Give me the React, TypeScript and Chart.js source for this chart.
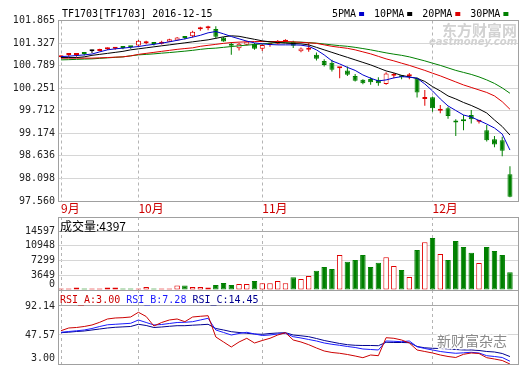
import React, { useEffect, useRef } from 'react';
import { Chart, registerables } from 'chart.js';

Chart.register(...registerables);

// ---------------- data ----------------
const TITLE = 'TF1703[TF1703] 2016-12-15';
const MONTH_LABELS = ['9月', '10月', '11月', '12月'];
const MONTH_START = [0, 10, 26, 48];

const OPEN = [
  100.99, 101.04, 101.04, 101.075, 101.13, 101.14, 101.18, 101.19, 101.215, 101.23,
  101.267, 101.32, 101.315, 101.308, 101.356, 101.39, 101.455, 101.487, 101.655, 101.68,
  101.66, 101.46, 101.27, 101.205, 101.284, 101.31, 101.19, 101.28, 101.31, 101.36,
  101.356, 101.13, 101.165, 101.05, 100.9, 100.86, 100.725, 100.67, 100.54, 100.45,
  100.47, 100.45, 100.35, 100.545, 100.515, 100.535, 100.49, 99.99, 100.035, 99.71,
  99.77, 99.44, 99.47, 99.61, 99.45, 99.25, 99.03, 99.01, 98.2,
];
const HIGH = [
  101.03, 101.09, 101.09, 101.11, 101.17, 101.19, 101.22, 101.23, 101.24, 101.25,
  101.4, 101.38, 101.34, 101.38, 101.43, 101.47, 101.475, 101.62, 101.714, 101.74,
  101.73, 101.47, 101.35, 101.33, 101.38, 101.33, 101.3, 101.31, 101.4, 101.42,
  101.38, 101.22, 101.33, 101.1, 100.94, 100.93, 100.735, 100.765, 100.59, 100.465,
  100.51, 100.51, 100.63, 100.61, 100.565, 100.61, 100.51, 100.21, 100.05, 99.85,
  99.81, 99.51, 99.61, 99.73, 99.49, 99.37, 99.11, 99.09, 98.39,
];
const LOW = [
  100.98, 101.0, 101.0, 101.03, 101.09, 101.13, 101.16, 101.17, 101.18, 101.19,
  101.24, 101.3, 101.27, 101.29, 101.35, 101.38, 101.41, 101.46, 101.62, 101.63,
  101.43, 101.36, 101.05, 101.15, 101.27, 101.17, 101.14, 101.24, 101.29, 101.34,
  101.21, 101.11, 101.117, 100.91, 100.77, 100.65, 100.49, 100.54, 100.41, 100.345,
  100.33, 100.31, 100.33, 100.49, 100.465, 100.465, 100.03, 99.83, 99.69, 99.65,
  99.52, 99.11, 99.25, 99.41, 99.41, 98.98, 98.84, 98.63, 97.65,
];
const CLOSE = [
  101.01, 101.05, 101.05, 101.065, 101.13, 101.18, 101.19, 101.2, 101.21, 101.225,
  101.38, 101.33, 101.305, 101.356, 101.416, 101.46, 101.445, 101.595, 101.68, 101.69,
  101.48, 101.365, 101.26, 101.31, 101.363, 101.19, 101.28, 101.285, 101.38, 101.4,
  101.26, 101.2, 101.17, 100.95, 100.806, 100.69, 100.73, 100.57, 100.43, 100.37,
  100.39, 100.37, 100.6, 100.55, 100.51, 100.54, 100.15, 100.0, 99.77, 99.72,
  99.59, 99.43, 99.465, 99.51, 99.455, 99.01, 98.91, 98.76, 97.66,
];

const MA_NAMES = ['5PMA', '10PMA', '20PMA', '30PMA'];
const MA5 = [
  101.005, 101.014, 101.029, 101.045, 101.065, 101.117, 101.165, 101.189, 101.206, 101.225,
  101.244, 101.273, 101.296, 101.325, 101.356, 101.392, 101.428, 101.469, 101.512, 101.571,
  101.602, 101.547, 101.483, 101.428, 101.373, 101.332, 101.308, 101.292, 101.284, 101.284,
  101.284, 101.277, 101.249, 101.165, 101.045, 100.902, 100.83, 100.747, 100.675, 100.567,
  100.489, 100.424, 100.448, 100.496, 100.527, 100.513, 100.489, 100.352, 100.185, 99.994,
  99.827, 99.719, 99.611, 99.564, 99.48, 99.396, 99.301, 99.157, 98.775,
];
const MA10 = [
  100.981, 100.981, 100.981, 100.998, 101.034, 101.057, 101.081, 101.105, 101.129, 101.165,
  101.189, 101.213, 101.237, 101.261, 101.284, 101.308, 101.332, 101.356, 101.38, 101.404,
  101.44, 101.476, 101.5, 101.488, 101.452, 101.416, 101.38, 101.356, 101.339, 101.325,
  101.316, 101.308, 101.284, 101.225, 101.165, 101.105, 101.045, 100.986, 100.926, 100.866,
  100.806, 100.735, 100.663, 100.615, 100.556, 100.52, 100.484, 100.412, 100.288, 100.185,
  100.066, 99.994, 99.91, 99.839, 99.755, 99.659, 99.492, 99.337, 99.133,
];
const MA20 = [
  100.967, 100.967, 100.967, 100.967, 100.967, 100.974, 100.981, 100.991, 100.998, 101.022,
  101.057, 101.081, 101.105, 101.129, 101.153, 101.177, 101.196, 101.213, 101.249, 101.273,
  101.296, 101.32, 101.339, 101.349, 101.356, 101.363, 101.363, 101.363, 101.363, 101.363,
  101.356, 101.344, 101.332, 101.32, 101.284, 101.249, 101.225, 101.201, 101.165, 101.117,
  101.069, 101.01, 100.95, 100.902, 100.847, 100.795, 100.735, 100.675, 100.608, 100.544,
  100.472, 100.4, 100.328, 100.269, 100.209, 100.149, 100.066, 99.929, 99.748,
];
const MA30 = [
  100.926, 100.931, 100.938, 100.945, 100.95, 100.962, 100.974, 100.986, 100.998, 101.022,
  101.045, 101.057, 101.069, 101.086, 101.1, 101.117, 101.134, 101.153, 101.177, 101.196,
  101.206, 101.225, 101.244, 101.261, 101.277, 101.292, 101.308, 101.325, 101.339, 101.344,
  101.349, 101.349, 101.337, 101.325, 101.304, 101.284, 101.265, 101.249, 101.225, 101.196,
  101.165, 101.129, 101.093, 101.062, 101.034, 100.998, 100.95, 100.902, 100.847, 100.795,
  100.735, 100.675, 100.627, 100.579, 100.52, 100.448, 100.364, 100.257, 100.13,
];

const VOLUME_TITLE = '成交量';
const VOLUME = [
  370, 370, 620, 370, 370, 370, 620, 620, 370, 370,
  370, 740, 370, 370, 370, 1110, 1110, 740, 740, 620,
  1240, 1730, 1240, 1480, 1480, 2230, 1660, 1660, 2230, 1660,
  3140, 2720, 3460, 4770, 5690, 5200, 8660, 7000, 7420, 8660,
  5690, 6750, 8090, 5940, 4950, 3220, 9900, 11800, 12860, 8910,
  7420, 12120, 10640, 9230, 6680, 10640, 9650, 8660, 4397,
];

const RSI_NAMES = ['RSI_A', 'RSI_B', 'RSI_C'];
const RSI_A = [
  54.18, 58.33, 59.1, 60.63, 62.94, 67.09, 72.16, 73.7, 74.16, 75.23,
  82.46, 76.0, 61.4, 66.78, 70.62, 72.16, 68.01, 75.23, 76.31, 77.23,
  44.5, 36.81, 29.13, 36.81, 42.5, 35.27, 39.12, 42.5, 47.57, 51.1,
  39.89, 36.81, 32.66, 27.59, 22.98, 20.67, 19.45, 17.6, 15.29, 12.68,
  16.83, 15.76, 43.42, 42.5, 39.89, 35.27, 24.52, 22.21, 19.91, 16.83,
  14.53, 12.99, 17.91, 19.91, 19.14, 12.68, 10.68, 8.38, 3.0,
];
const RSI_B = [
  51.72, 52.95, 54.02, 55.25, 57.56, 60.63, 63.25, 64.01, 64.78, 65.55,
  70.62, 66.78, 62.94, 63.71, 65.24, 66.78, 67.09, 68.01, 70.62, 73.24,
  55.25, 51.41, 47.57, 49.88, 51.72, 49.11, 46.8, 47.57, 49.11, 50.18,
  44.96, 42.96, 40.65, 38.35, 35.27, 33.28, 31.74, 29.9, 28.36, 26.05,
  25.29, 24.52, 38.35, 37.89, 37.27, 38.35, 29.59, 26.82, 24.52, 22.21,
  20.67, 19.45, 20.21, 20.98, 19.91, 15.76, 14.53, 12.99, 7.28,
];
const RSI_C = [
  51.1, 51.87, 52.95, 53.72, 55.25, 56.79, 58.33, 59.4, 60.02, 60.63,
  64.01, 62.17, 59.1, 59.87, 60.94, 61.86, 61.86, 62.63, 63.25, 64.01,
  57.56, 55.25, 52.64, 51.41, 50.18, 49.11, 48.65, 49.88, 50.64, 51.1,
  47.57, 46.34, 44.96, 42.19, 39.12, 36.81, 34.51, 32.66, 31.74, 31.43,
  31.43, 31.13, 36.35, 36.04, 36.04, 35.74, 29.9, 27.9, 27.13, 26.82,
  26.05, 25.29, 24.52, 24.52, 23.75, 22.21, 21.44, 19.14, 14.45,
];

const PRICE_TICKS = [97.56, 98.098, 98.636, 99.174, 99.712, 100.251, 100.789, 101.327, 101.865];
const VOLUME_TICKS = [0, 3649, 7299, 10948, 14597];
const RSI_TICKS = [3.0, 47.57, 92.14];

const WATERMARK_CN = '东方财富网';
const WATERMARK_EN = 'eastmoney.com';
const WATERMARK_WX = '新财富杂志';

// ---------------- styles ----------------
const MONO = '"DejaVu Sans Mono", monospace';
const CJK = '"Noto Sans CJK SC", sans-serif';
const UP = '#e00000';
const DOWN = '#008000';
const FLAT = '#000000';
const MA_COLORS = ['#0000cc', '#000000', '#dd0000', '#008000'];
const RSI_COLORS = ['#cc0000', '#1a1aff', '#000090'];
const X_MIN = -0.39;
const X_MAX = 59.04;
const AXIS_W = 58;

const IDX = CLOSE.map((_, i) => i);
const candleColor = (i: number) => (CLOSE[i] > OPEN[i] ? UP : CLOSE[i] < OPEN[i] ? DOWN : FLAT);
const volColor = (i: number) => (CLOSE[i] >= OPEN[i] ? UP : DOWN);

const align = (p: number) => Math.round(p - 0.5) + 0.5;

const zeroPad = (s: any) => {
  s.paddingTop = 0;
  s.paddingBottom = 0;
  s.paddingLeft = 0;
  s.paddingRight = 0;
};

const framePlugin = {
  id: 'frame',
  afterDraw(chart: any) {
    const { ctx, chartArea: a } = chart;
    ctx.save();
    ctx.strokeStyle = '#a0a0a0';
    ctx.lineWidth = 1;
    const l = align(a.left), t = align(a.top), r = align(a.right), b = align(a.bottom);
    ctx.strokeRect(l, t, r - l, b - t);
    ctx.restore();
  },
};

const xScale = (showLabels: boolean) => ({
  type: 'linear',
  min: X_MIN,
  max: X_MAX,
  offset: false,
  afterBuildTicks: (s: any) => {
    s.ticks = MONTH_START.map((v) => ({ value: v }));
  },
  afterFit: (s: any) => {
    s.height = showLabels ? 15 : 0;
    zeroPad(s);
  },
  grid: { color: '#b4b4b4', lineWidth: 1, drawTicks: false, offset: false },
  border: { display: false, dash: [3, 3] },
  ticks: {
    display: showLabels,
    autoSkip: false,
    maxRotation: 0,
    minRotation: 0,
    align: 'start',
    padding: 0,
    color: '#cc0000',
    font: { family: CJK, size: 12 },
    callback: (_v: any, i: number) => MONTH_LABELS[i],
  },
});

const yScale = (
  ticks: number[],
  min: number,
  max: number,
  fmt: (v: number) => string,
  darkTop: boolean,
  liftBottom: boolean,
) => ({
  type: 'linear',
  min,
  max,
  beginAtZero: false,
  afterBuildTicks: (s: any) => {
    s.ticks = ticks.map((v) => ({ value: v }));
  },
  afterFit: (s: any) => {
    s.width = AXIS_W;
    zeroPad(s);
  },
  grid: {
    drawTicks: false,
    lineWidth: 1,
    color: (c: any) => (darkTop && c.tick && c.tick.value === ticks[ticks.length - 1] ? '#a8a8a8' : '#d6d6d6'),
  },
  border: { display: false },
  ticks: {
    autoSkip: false,
    padding: 3,
    color: '#222',
    font: { family: MONO, size: 10 },
    callback: (v: number, i: number) => (liftBottom && i === 0 ? [fmt(v), ''] : fmt(v)),
  },
});

const baseOptions = (padding: any) => ({
  responsive: false,
  animation: false,
  events: [],
  layout: { padding },
  plugins: { legend: { display: false }, tooltip: { enabled: false }, title: { display: false } },
});

export default function App() {
  const mainRef = useRef<HTMLCanvasElement>(null);
  const volRef = useRef<HTMLCanvasElement>(null);
  const rsiRef = useRef<HTMLCanvasElement>(null);

  useEffect(() => {
    const charts: any[] = [];
    const colors = IDX.map(candleColor);

    const mainText = {
      id: 'mainText',
      beforeDatasetsDraw(chart: any) {
        const ctx = chart.ctx;
        ctx.save();
        ctx.fillStyle = '#d2d2d2';
        ctx.textBaseline = 'middle';
        ctx.textAlign = 'left';
        ctx.font = `bold 15px ${CJK}`;
        ctx.fillText(WATERMARK_CN, 442, 30);
        ctx.font = 'italic bold 10px "DejaVu Sans", sans-serif';
        ctx.fillText(WATERMARK_EN, 429, 42.5);
        ctx.restore();
      },
      afterDraw(chart: any) {
        const ctx = chart.ctx;
        ctx.save();
        ctx.textBaseline = 'middle';
        ctx.textAlign = 'left';
        ctx.font = `10px ${MONO}`;
        ctx.fillStyle = '#000';
        ctx.fillText(TITLE, 62, 14);
        let x = 332;
        MA_NAMES.forEach((name, k) => {
          ctx.fillStyle = '#000';
          ctx.fillText(name, x, 14);
          x += ctx.measureText(name).width + 3;
          ctx.fillStyle = MA_COLORS[k];
          ctx.fillRect(x, 12, 5, 4);
          x += 15;
        });
        ctx.restore();
      },
    };

    charts.push(
      new Chart(mainRef.current as HTMLCanvasElement, {
        type: 'bar',
        data: {
          datasets: [
            {
              type: 'bar',
              label: 'wick',
              data: IDX.map((i) => ({ x: i, y: [LOW[i], HIGH[i]] })),
              backgroundColor: colors,
              borderWidth: 0,
              barThickness: 1,
              inflateAmount: 0,
              grouped: false,
              minBarLength: 1,
              order: 3,
            },
            {
              type: 'bar',
              label: 'body',
              data: IDX.map((i) => ({ x: i, y: [OPEN[i], CLOSE[i]] })),
              backgroundColor: IDX.map((i) => (CLOSE[i] > OPEN[i] ? '#ffffff' : colors[i])),
              borderColor: colors,
              borderWidth: 1,
              borderSkipped: false,
              barThickness: 5,
              inflateAmount: 0,
              minBarLength: 2,
              grouped: false,
              order: 2,
            },
            ...[MA5, MA10, MA20, MA30].map((arr, k) => ({
              type: 'line',
              label: MA_NAMES[k],
              data: arr.map((v, i) => ({ x: i, y: v })),
              borderColor: MA_COLORS[k],
              borderWidth: 1,
              pointRadius: 0,
              tension: 0,
              fill: false,
              order: 1,
            })),
          ],
        } as any,
        options: {
          ...baseOptions({ top: 20.5, right: 2, bottom: 0, left: 0 }),
          scales: {
            x: xScale(true),
            y: yScale(PRICE_TICKS, PRICE_TICKS[0], PRICE_TICKS[PRICE_TICKS.length - 1], (v) => v.toFixed(3), false, false),
          },
        } as any,
        plugins: [framePlugin, mainText],
      }),
    );

    const volText = {
      id: 'volText',
      afterDraw(chart: any) {
        const ctx = chart.ctx;
        ctx.save();
        ctx.textBaseline = 'middle';
        ctx.textAlign = 'left';
        ctx.fillStyle = '#000';
        ctx.font = `12px ${CJK}`;
        ctx.fillText(`${VOLUME_TITLE}:${VOLUME[VOLUME.length - 1]}`, 60, 13);
        ctx.restore();
      },
    };

    charts.push(
      new Chart(volRef.current as HTMLCanvasElement, {
        type: 'bar',
        data: {
          datasets: [
            {
              type: 'bar',
              label: VOLUME_TITLE,
              data: IDX.map((i) => ({ x: i, y: VOLUME[i] })),
              backgroundColor: IDX.map((i) => (volColor(i) === UP ? '#ffffff' : DOWN)),
              borderColor: IDX.map(volColor),
              borderWidth: 1,
              borderSkipped: false,
              barThickness: 5.5,
              inflateAmount: 0,
              grouped: false,
            },
          ],
        } as any,
        options: {
          ...baseOptions({ top: 4, right: 2, bottom: 3, left: 0 }),
          scales: {
            x: xScale(false),
            y: yScale(VOLUME_TICKS, 0, 18061, (v) => String(v), true, true),
          },
        } as any,
        plugins: [framePlugin, volText],
      }),
    );

    const rsiSeries = [RSI_A, RSI_B, RSI_C];
    const rsiText = {
      id: 'rsiText',
      afterDraw(chart: any) {
        const ctx = chart.ctx;
        ctx.save();
        ctx.textBaseline = 'middle';
        ctx.textAlign = 'left';
        ctx.font = `10px ${MONO}`;
        let x = 60;
        RSI_NAMES.forEach((name, k) => {
          const arr = rsiSeries[k];
          const s = `${name}:${arr[arr.length - 1].toFixed(2)}`;
          ctx.fillStyle = RSI_COLORS[k];
          ctx.fillText(s, x, 13);
          x += ctx.measureText(s).width + 6;
        });
        ctx.font = `14px ${CJK}`;
        ctx.lineWidth = 3;
        ctx.strokeStyle = 'rgba(255,255,255,0.9)';
        ctx.strokeText(WATERMARK_WX, 437, 53.5);
        ctx.fillStyle = '#8a8a8a';
        ctx.fillText(WATERMARK_WX, 437, 53.5);
        ctx.restore();
      },
    };

    charts.push(
      new Chart(rsiRef.current as HTMLCanvasElement, {
        type: 'line',
        data: {
          datasets: rsiSeries.map((arr, k) => ({
            label: RSI_NAMES[k],
            data: arr.map((v, i) => ({ x: i, y: v })),
            borderColor: RSI_COLORS[k],
            borderWidth: 1,
            pointRadius: 0,
            tension: 0,
            fill: false,
          })),
        } as any,
        options: {
          ...baseOptions({ top: 3, right: 2, bottom: 1, left: 0 }),
          scales: {
            x: xScale(false),
            y: yScale(RSI_TICKS, 3.0, 116.7, (v) => v.toFixed(2), true, true),
          },
        } as any,
        plugins: [framePlugin, rsiText],
      }),
    );

    return () => charts.forEach((c) => c.destroy());
  }, []);

  return (
    <div style={{ position: 'absolute', left: 0, top: 0, width: 520, height: 365, background: '#fff', overflow: 'hidden' }}>
      <canvas ref={mainRef} width={520} height={216} style={{ position: 'absolute', left: 0, top: 0 }} />
      <canvas ref={volRef} width={520} height={80} style={{ position: 'absolute', left: 0, top: 213 }} />
      <canvas ref={rsiRef} width={520} height={78} style={{ position: 'absolute', left: 0, top: 287 }} />
    </div>
  );
}
